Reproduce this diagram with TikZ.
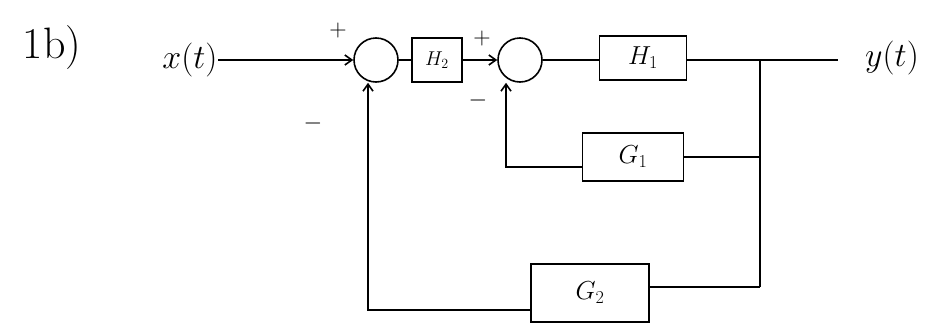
\RequirePackage{fix-cm}
\documentclass[tikz,border=0pt]{standalone}
\usetikzlibrary{arrows.meta}
\begin{document}
\begin{tikzpicture}[x=1pt,y=-1pt,
  every path/.style={line width=1.6pt},
  blk/.style={draw,line width=1.6pt,minimum width=#1,inner sep=0pt,font=\fontsize{26}{28}\selectfont},
  sumc/.style={draw,circle,line width=1.6pt,minimum size=44pt,inner sep=0pt},
  lbl/.style={font=\fontsize{34}{36}\selectfont,inner sep=0pt},
  sgn/.style={font=\fontsize{24}{26}\selectfont,inner sep=0pt},
  arr/.style={-{Straight Barb[length=7pt,width=10pt,line width=1.6pt]}}]
\useasboundingbox (0,0) rectangle (947,327);
\node[lbl,font=\fontsize{44}{46}\selectfont] (tag) at (52,48) {1b)};
\node[lbl] (x) at (190,60) {$x(t)$};
\node[sumc] (s1) at (376,60) {};
\node[blk=50pt,minimum height=44pt,font=\fontsize{20}{22}\selectfont] (H2) at (437,60) {$H_2$};
\node[sumc] (s2) at (520,60) {};
\node[blk=87pt,minimum height=44pt] (H1) at (643,58) {$H_1$};
\node[blk=101pt,minimum height=48pt] (G1) at (633,157) {$G_1$};
\node[blk=118pt,minimum height=58pt] (G2) at (590,293) {$G_2$};
\node[lbl] (y) at (892,58) {$y(t)$};
\node[sgn] (p1) at (338,30) {$+$};
\node[sgn] (m1) at (313,123) {$-$};
\node[sgn] (p2) at (482,38) {$+$};
\node[sgn] (m2) at (478,100) {$-$};
\coordinate (b1) at (760,60);
\coordinate (b2) at (760,157);
\coordinate (b3) at (760,287);
\coordinate (o) at (838,60);
\coordinate (c1) at (506,167);
\coordinate (c2) at (368,310);
\draw[arr] (x.east) -- (s1.west);
\draw (s1.east) -- (H2.west);
\draw[arr] (H2.east) -- (s2.west);
\draw (s2.east) -- (H1.west |- s2.east);
\draw (H1.east |- b1) -- (b1) -- (o);
\draw (b1) -- (b2) -- (b3);
\draw (b2) -- (G1.east);
\draw (b3) -- (G2.east |- b3);
\draw[arr] (G1.west |- c1) -- (c1) -- (s2.south -| c1);
\draw[arr] (G2.west |- c2) -- (c2) -- (s1.south -| c2);
\end{tikzpicture}
\end{document}
